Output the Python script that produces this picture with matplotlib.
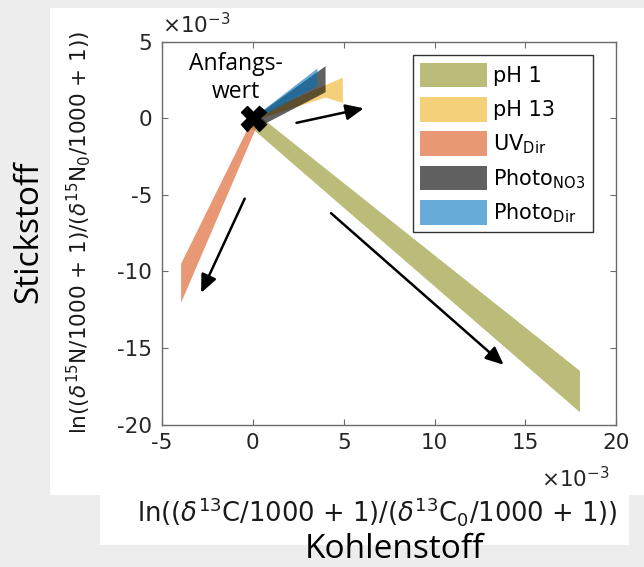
import numpy as np
import matplotlib
matplotlib.use("Agg")
import matplotlib.pyplot as plt
from matplotlib.patches import Patch, Rectangle
from matplotlib.ticker import FuncFormatter

# values, in units of 1e-3
SCALE = 1e-3

ph1_x = [0.3, 18.0, 18.0, -0.2]
ph1_y = [0.2, -16.5, -19.2, -0.5]

ph13_x = [0.0, 4.95, 4.95, 4.0, 0.2]
ph13_y = [0.1, 2.65, 1.0, 1.35, -0.1]

uv_x = [0.0, -3.95, -3.95, 0.3]
uv_y = [0.0, -9.5, -12.05, -0.3]

no3_x = [0.0, 4.0, 4.0, 0.6]
no3_y = [0.0, 3.4, 1.7, -0.4]

dir_x = [0.0, 3.55, 3.55, 0.3]
dir_y = [0.0, 3.25, 2.1, 0.0]

labels = ["pH 1", "pH 13", r"UV$_{\mathrm{Dir}}$",
          r"Photo$_{\mathrm{NO3}}$", r"Photo$_{\mathrm{Dir}}$"]
colors = ["#808000", "#EDB120", "#D95319", "#000000", "#0072BD"]
alphas = [0.52, 0.6, 0.6, 0.62, 0.6]

# arrows: (start x, start y, end x, end y)
arrow_x0 = [2.4, -0.45, 4.3]
arrow_y0 = [-0.3, -5.25, -6.2]
arrow_x1 = [6.1, -2.85, 13.8]
arrow_y1 = [0.65, -11.4, -16.1]

start_x, start_y = [0.0], [0.0]

xticks = [-5, 0, 5, 10, 15, 20]
yticks = [-20, -15, -10, -5, 0, 5]

plt.rcParams["axes.unicode_minus"] = False
plt.rcParams["font.family"] = "DejaVu Sans"

fig = plt.figure(figsize=(6.44, 5.67), dpi=100, facecolor="#ededed")
# white backdrop like the original slide crop
fig.patches.append(Rectangle((0.078, 0.127), 0.922, 0.859, transform=fig.transFigure,
                             facecolor="white", edgecolor="none", zorder=-10))
fig.patches.append(Rectangle((0.155, 0.039), 0.822, 0.09, transform=fig.transFigure,
                             facecolor="white", edgecolor="none", zorder=-10))

ax = fig.add_axes([0.2516, 0.2513, 0.7054, 0.6752])

series = [(ph1_x, ph1_y), (ph13_x, ph13_y), (uv_x, uv_y), (no3_x, no3_y), (dir_x, dir_y)]
for (xs, ys), c, a in zip(series, colors, alphas):
    ax.fill(np.array(xs) * SCALE, np.array(ys) * SCALE, color=c, alpha=a, lw=0)

for x0, y0, x1, y1 in zip(arrow_x0, arrow_y0, arrow_x1, arrow_y1):
    ax.annotate("", xy=(x1 * SCALE, y1 * SCALE), xytext=(x0 * SCALE, y0 * SCALE),
                arrowprops=dict(arrowstyle="-|>,head_length=0.9,head_width=0.4",
                                color="k", lw=1.8, shrinkA=0, shrinkB=0,
                                mutation_scale=12))

ax.plot(np.array(start_x) * SCALE, np.array(start_y) * SCALE, marker="X", ms=18,
        color="k", mec="k", ls="none", zorder=5)
ax.text(-0.95 * SCALE, 2.64 * SCALE, "Anfangs-\nwert", ha="center", va="center",
        fontsize=16.5, family="Open Sans", linespacing=1.25, zorder=6)

ax.set_xlim(-5 * SCALE, 20 * SCALE)
ax.set_ylim(-20 * SCALE, 5 * SCALE)
ax.set_xticks(np.array(xticks) * SCALE)
ax.set_yticks(np.array(yticks) * SCALE)
fmt = FuncFormatter(lambda v, pos: f"{v / SCALE:.0f}")
ax.xaxis.set_major_formatter(fmt)
ax.yaxis.set_major_formatter(fmt)

for s in ax.spines.values():
    s.set_color("#6b6b6b")
    s.set_linewidth(1.0)
ax.tick_params(direction="in", top=True, right=True, length=4, width=0.8,
               color="#6b6b6b", labelsize=15.5, labelcolor="#262626")
ax.tick_params(axis="x", pad=6)
ax.tick_params(axis="y", pad=7)

# exponent notes, as MATLAB puts them
ax.text(0.0, 1.023, r"$\times10^{-3}$", transform=ax.transAxes, ha="left",
        va="baseline", fontsize=15.5, color="#262626")
ax.text(0.986, -0.163, r"$\times10^{-3}$", transform=ax.transAxes, ha="right",
        va="baseline", fontsize=15.5, color="#262626")

ax.set_xlabel(r"ln(($\delta^{13}$C/1000 + 1)/($\delta^{13}$C$_0$/1000 + 1))",
              fontsize=18.5, color="#1a1a1a")
ax.xaxis.set_label_coords(0.473, -0.184)
ax.set_ylabel(r"ln(($\delta^{15}$N/1000 + 1)/($\delta^{15}$N$_0$/1000 + 1))",
              fontsize=15.5, color="#1a1a1a")
ax.yaxis.set_label_coords(-0.152, 0.503)

handles = [Patch(facecolor=c, alpha=a, edgecolor="none") for c, a in zip(colors, alphas)]
leg = ax.legend(handles, labels, loc="upper left", bbox_to_anchor=(0.552, 0.965),
                borderaxespad=0, fontsize=15, handlelength=3.2, handleheight=1.45,
                labelspacing=0.46, handletextpad=0.3, borderpad=0.36,
                fancybox=False, framealpha=1)
leg.get_frame().set_edgecolor("#333333")
leg.get_frame().set_linewidth(1.0)

fig.text(0.045, 0.591, "Stickstoff", rotation=90, ha="center", va="center",
         fontsize=24, family="Open Sans")
fig.text(0.612, 0.001, "Kohlenstoff", ha="center", va="bottom",
         fontsize=24, family="Open Sans")

fig.savefig("out.png", dpi=100, facecolor=fig.get_facecolor())
